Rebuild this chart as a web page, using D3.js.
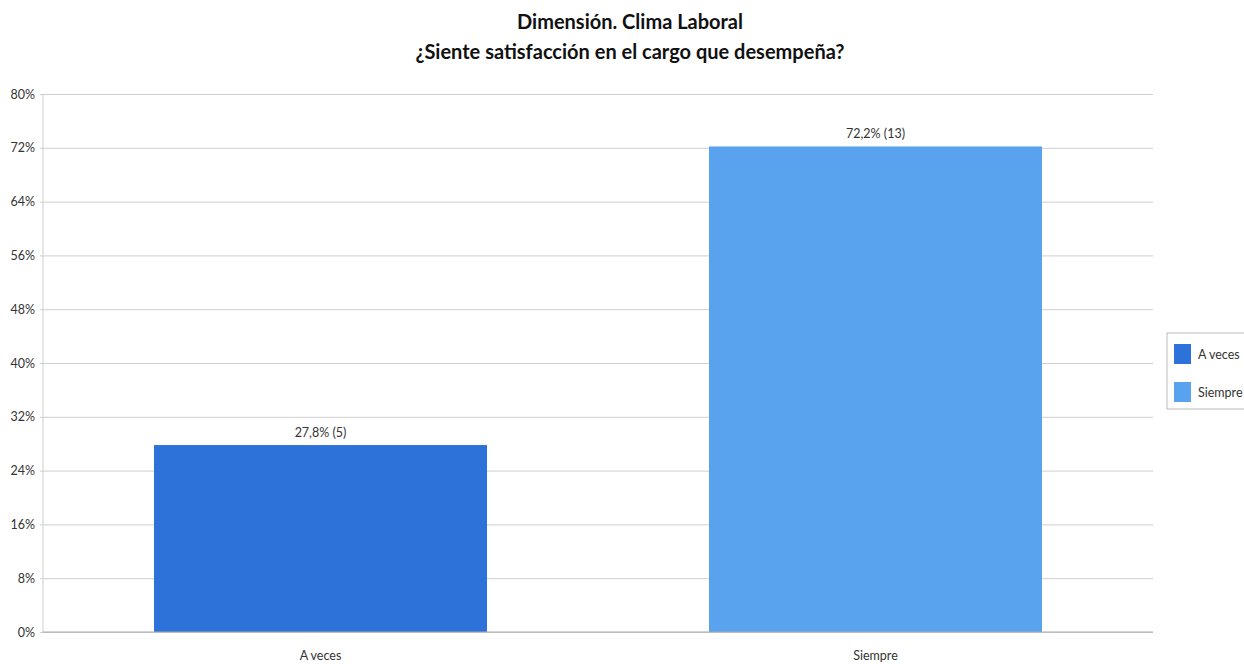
<!DOCTYPE html>
<html>
<head>
<meta charset="utf-8">
<script src="https://cdn.jsdelivr.net/npm/d3@7"></script>
<style>
  body { margin: 0; background: #fff; }
  text { font-family: Lato, "Open Sans", sans-serif; fill: #333; }
</style>
</head>
<body>
<div id="root"></div>
<script>
const categories = ["A veces", "Siempre"];
const percents = [27.8, 72.2];
const counts = [5, 13];
const colors = ["#2c72d9", "#59a2ee"];
const yTicks = [0, 8, 16, 24, 32, 40, 48, 56, 64, 72, 80];
const titleLines = ["Dimensión. Clima Laboral", "¿Siente satisfacción en el cargo que desempeña?"];

const width = 1244, height = 664;
const margin = { top: 94, right: 91, bottom: 32, left: 43 };

const svg = d3.select("#root").append("svg")
  .attr("width", width)
  .attr("height", height);

const x = d3.scaleBand()
  .domain(categories)
  .range([margin.left, width - margin.right])
  .paddingInner(0.4)
  .paddingOuter(0.2);

const y = d3.scaleLinear()
  .domain([0, 80])
  .range([height - margin.bottom, margin.top]);

// gridlines + y labels
const yAxis = d3.axisLeft(y)
  .tickValues(yTicks)
  .tickSize(-(width - margin.right - margin.left) - 3)
  .tickPadding(5)
  .tickFormat(d => d + "%");

const gy = svg.append("g")
  .attr("transform", `translate(${margin.left - 3},0)`)
  .call(yAxis);
gy.select(".domain").remove();
gy.selectAll(".tick line").attr("stroke", "#cfcfcf");
gy.selectAll(".tick text").attr("font-size", 12.5).attr("fill", "#333")
  .style("font-family", "Lato, sans-serif");

// vertical axis line
svg.append("line")
  .attr("x1", margin.left).attr("x2", margin.left)
  .attr("y1", y(80)).attr("y2", y(0))
  .attr("stroke", "#cfcfcf");

// bars
svg.selectAll(".bar").data(categories).enter().append("rect")
  .attr("class", "bar")
  .attr("x", d => x(d))
  .attr("y", (d, i) => y(percents[i]))
  .attr("width", x.bandwidth())
  .attr("height", (d, i) => y(0) - y(percents[i]))
  .attr("fill", (d, i) => colors[i]);

// bottom axis line
svg.append("line")
  .attr("x1", margin.left).attr("x2", width - margin.right)
  .attr("y1", y(0)).attr("y2", y(0))
  .attr("stroke", "#aaa");

// value labels
svg.selectAll(".val").data(categories).enter().append("text")
  .attr("x", d => x(d) + x.bandwidth() / 2)
  .attr("y", (d, i) => y(percents[i]) - 8)
  .attr("text-anchor", "middle")
  .attr("font-size", 12.5)
  .text((d, i) => `${String(percents[i]).replace(".", ",")}% (${counts[i]})`);

// category labels
svg.selectAll(".cat").data(categories).enter().append("text")
  .attr("x", d => x(d) + x.bandwidth() / 2)
  .attr("y", y(0) + 28)
  .attr("text-anchor", "middle")
  .attr("font-size", 12.5)
  .text(d => d);

// title
svg.selectAll(".title").data(titleLines).enter().append("text")
  .attr("x", 630)
  .attr("y", (d, i) => 29 + i * 30)
  .attr("text-anchor", "middle")
  .attr("font-size", 20)
  .attr("font-weight", "bold")
  .style("fill", "#111")
  .text(d => d);

// legend
const legend = svg.append("g").attr("transform", "translate(1167,333)");
legend.append("rect")
  .attr("width", 90).attr("height", 76)
  .attr("fill", "#fff").attr("stroke", "#bbb");
categories.forEach((c, i) => {
  legend.append("rect")
    .attr("x", 7).attr("y", 11 + i * 38)
    .attr("width", 17).attr("height", 20)
    .attr("fill", colors[i]);
  legend.append("text")
    .attr("x", 31).attr("y", 26 + i * 38)
    .attr("font-size", 12.5)
    .text(c);
});
</script>
</body>
</html>
